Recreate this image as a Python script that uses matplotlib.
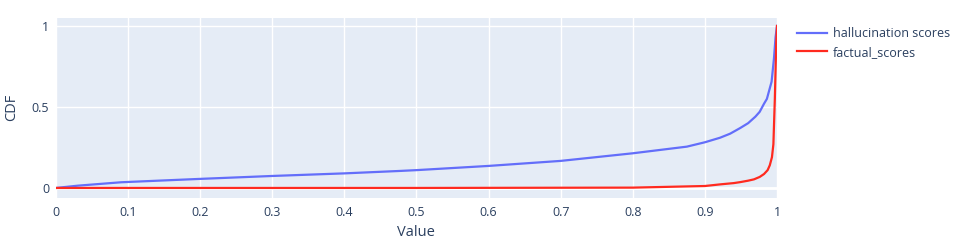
import matplotlib.pyplot as plt

# CDF values
hall_x = [0.0, 0.03, 0.09, 0.1, 0.2, 0.3, 0.4, 0.477, 0.5, 0.6, 0.7, 0.8, 0.875, 0.9,
          0.921, 0.935, 0.949, 0.96, 0.97, 0.976, 0.982, 0.986, 0.9925, 0.9958, 0.998, 1.0]
hall_y = [0.0, 0.014, 0.035, 0.037, 0.056, 0.074, 0.09, 0.105, 0.11, 0.136, 0.167, 0.214,
          0.255, 0.282, 0.31, 0.335, 0.37, 0.40, 0.44, 0.47, 0.52, 0.55, 0.656, 0.80, 0.93, 1.0]

fact_x = [0.0, 0.5, 0.8, 0.9, 0.921, 0.94, 0.949, 0.96, 0.968, 0.976, 0.982, 0.987, 0.99,
          0.993, 0.995, 0.997, 0.999, 1.0]
fact_y = [0.0, 0.0, 0.002, 0.012, 0.022, 0.03, 0.036, 0.045, 0.053, 0.068, 0.086, 0.11, 0.14,
          0.19, 0.27, 0.55, 0.9, 1.0]

series_labels = ["hallucination scores", "factual_scores"]
x_ticks = [0, 0.1, 0.2, 0.3, 0.4, 0.5, 0.6, 0.7, 0.8, 0.9, 1]
y_ticks = [0, 0.5, 1]

text_color = "#2a3f5f"
plt.rcParams["font.family"] = ["Open Sans", "DejaVu Sans"]

fig = plt.figure(figsize=(9.62, 2.45), dpi=100)
W, H = 962, 245
ax = fig.add_axes([56 / W, (H - 198) / H, 721 / W, 180 / H])
ax.set_facecolor("#e5ecf6")
for spine in ax.spines.values():
    spine.set_visible(False)

ax.set_xlim(0, 1)
ax.set_ylim(-0.062, 1.049)
ax.set_xticks(x_ticks)
ax.set_xticklabels([f"{t:g}" for t in x_ticks])
ax.set_yticks(y_ticks)
ax.set_yticklabels([f"{t:g}" for t in y_ticks])
ax.tick_params(length=0, labelsize=9, colors=text_color)
ax.tick_params(axis="x", pad=6)
ax.tick_params(axis="y", pad=5)
ax.grid(color="white", lw=1)
ax.set_axisbelow(True)
ax.axhline(0, color="white", lw=2, zorder=1)

ax.plot(hall_x, hall_y, color="#636efa", lw=1.6, label=series_labels[0], zorder=3)
ax.plot(fact_x, fact_y, color="#ff2a1f", lw=1.6, label=series_labels[1], zorder=3)

fig.text(416 / W, 1 - 232 / H, "Value", fontsize=10.5, color=text_color,
         ha="center", va="center")
fig.text(12 / W, 1 - 107 / H, "CDF", fontsize=10.5, color=text_color,
         ha="center", va="center", rotation=90)

fig.legend(loc="upper left", bbox_to_anchor=(792 / W, 1 - 22 / H), frameon=False,
           fontsize=9, labelcolor=text_color, handlelength=2.4, handletextpad=0.5,
           labelspacing=0.45, borderaxespad=0)

fig.savefig("out.png", dpi=100)
